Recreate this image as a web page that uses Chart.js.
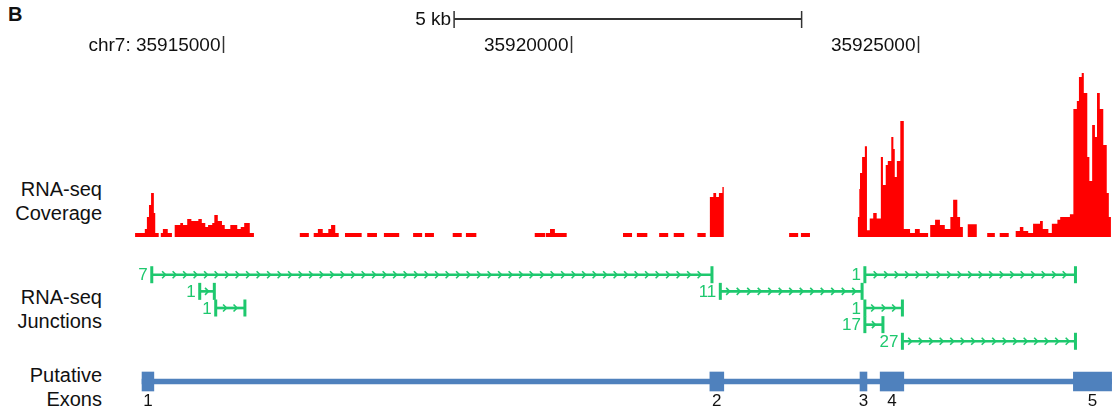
<!DOCTYPE html>
<html>
<head>
<meta charset="utf-8">
<title>RNA-seq coverage, junctions and putative exons</title>
<script src="https://cdn.jsdelivr.net/npm/chart.js"></script>
<style>
  body { margin: 0; background: #fff; font-family: "Liberation Sans", Arial, sans-serif; }
  #wrap { position: relative; width: 1114px; height: 412px; overflow: hidden; background: #fff; }
  #wrap canvas { position: absolute; left: 0; }
  .lbl { position: absolute; right: 1012px; font-size: 20px; line-height: 24px; color: #111; text-align: right; white-space: nowrap; }
  #panel { position: absolute; left: 8px; top: 3px; font-size: 20px; font-weight: bold; color: #111; }
</style>
</head>
<body>
<div id="wrap">
  <div id="panel">B</div>
  <div class="lbl" style="top:177px">RNA-seq<br>Coverage</div>
  <div class="lbl" style="top:285px">RNA-seq<br>Junctions</div>
  <div class="lbl" style="top:363px">Putative<br>Exons</div>
  <canvas id="ruler" width="1114" height="60" style="top:0"></canvas>
  <canvas id="coverage" width="1114" height="164" style="top:73px"></canvas>
  <canvas id="junctions" width="1114" height="104" style="top:256px"></canvas>
  <canvas id="exons" width="1114" height="50" style="top:362px"></canvas>
</div>
<script>
// genomic window shown (chr7)
const xRange = [35913700, 35927800];
const rulerTicks = [35915000, 35920000, 35925000];
const rulerLabels = ["chr7: 35915000", "35920000", "35925000"];
const scaleBar = [35918320, 35923320];
const scaleBarLabel = "5 kb";

// coverage runs: depth holds from each position to the next one
const covPos = [
  35913730, 35913870, 35913900, 35913930, 35913960, 35914000, 35914020, 35914070,
  35914100, 35914130, 35914200, 35914260, 35914300, 35914380, 35914420, 35914480,
  35914540, 35914590, 35914640, 35914690, 35914740, 35914780, 35914840, 35914870,
  35914920, 35914980, 35915020, 35915100, 35915200, 35915250, 35915300, 35915380,
  35915440, 35916100, 35916230, 35916300, 35916360, 35916430, 35916510, 35916550,
  35916610, 35916660, 35916750, 35916990, 35917070, 35917210, 35917310, 35917530,
  35917730, 35917860, 35917900, 35918030, 35918300, 35918430, 35918490, 35918640,
  35919480, 35919630, 35919640, 35919700, 35919770, 35919940, 35920750, 35920880,
  35920950, 35921100, 35921270, 35921400, 35921480, 35921630, 35921820, 35921940,
  35922000, 35922050, 35922090, 35922130, 35922180, 35922200, 35923140, 35923270,
  35923310, 35923440, 35924130, 35924150, 35924160, 35924190, 35924230, 35924260,
  35924300, 35924350, 35924400, 35924460, 35924490, 35924530, 35924560, 35924610,
  35924640, 35924660, 35924690, 35924740, 35924790, 35924880, 35924950, 35925020,
  35925140, 35925170, 35925240, 35925310, 35925380, 35925460, 35925500, 35925560,
  35925600, 35925640, 35925710, 35925840, 35925990, 35926100, 35926170, 35926300,
  35926400, 35926460, 35926510, 35926580, 35926650, 35926750, 35926790, 35926870,
  35926920, 35927000, 35927040, 35927180, 35927230, 35927280, 35927310, 35927350,
  35927380, 35927430, 35927460, 35927500, 35927540, 35927570, 35927610, 35927660,
  35927710, 35927740, 35927770
];
const covDepth = [
  1, 2, 5, 8, 11, 6, 1, 0,
  1, 2, 1, 0, 3, 3.5, 3, 4.5,
  4, 4, 4.5, 3.5, 2.5, 3, 3.5, 5.5,
  4, 3, 2, 3, 2, 2.5, 3.5, 1,
  0, 1, 0, 1, 2, 1, 2, 3,
  1, 0, 1, 0, 1, 0, 1, 0,
  1, 0, 1, 0, 1, 0, 1, 0,
  1, 0, 1, 2, 1, 0, 1, 0,
  1, 0, 1, 0, 1, 0, 1, 0,
  10, 11, 10, 11, 12.5, 0, 1, 0,
  1, 0, 5, 12, 16, 20, 22.7, 1.7,
  4.6, 6, 4.6, 20, 13, 18, 19, 25,
  22, 15, 19, 29, 2, 1, 2, 1,
  0, 3, 4.3, 3, 2, 5, 9.3, 5,
  2.5, 0, 3.2, 0, 1, 0, 1, 0,
  1.5, 2.5, 1.5, 1, 3.3, 4, 2, 1,
  3.3, 4.3, 5, 5.7, 32, 34, 40, 41,
  36, 20, 14, 28, 25, 36, 32, 23,
  11, 5, 0
];
const covMax = 41;

// splice junctions: start, end, display row, supporting reads
const juncStart = [35913970, 35924230, 35914660, 35922150, 35914890, 35924230, 35924230, 35924770];
const juncEnd   = [35922030, 35927260, 35914870, 35924190, 35915310, 35924770, 35924490, 35927260];
const juncRow   = [1, 1, 2, 2, 3, 3, 4, 5];
const juncCount = ["7", "1", "1", "11", "1", "1", "17", "27"];

// putative exons
const exonStart = [35913830, 35922000, 35924160, 35924450, 35927230];
const exonEnd   = [35914000, 35922200, 35924260, 35924790, 35927780];
const exonNames = ["1", "2", "3", "4", "5"];

const RED = "#ff0000";
const GREEN = "#1ec86e";
const BLUE = "#4f81bd";
const FONT = "'Liberation Sans', Arial, sans-serif";

const baseOptions = (extra) => ({
  responsive: false,
  animation: false,
  events: [],
  layout: { padding: { left: 133, right: 1, top: 0, bottom: 0 } },
  plugins: { legend: { display: false }, tooltip: { enabled: false } },
  ...extra,
});

const xScale = { type: "linear", min: xRange[0], max: xRange[1], display: false };

// coordinate ruler and scale bar
const rulerPlugin = {
  id: "ruler",
  afterDraw(chart) {
    const { ctx } = chart;
    const x = chart.scales.x;
    ctx.save();
    ctx.strokeStyle = "#333";
    ctx.fillStyle = "#111";
    ctx.font = "19px " + FONT;
    ctx.textAlign = "right";
    ctx.textBaseline = "middle";

    const b0 = x.getPixelForValue(scaleBar[0]);
    const b1 = x.getPixelForValue(scaleBar[1]);
    ctx.lineWidth = 2;
    ctx.beginPath();
    ctx.moveTo(b0, 19);
    ctx.lineTo(b1, 19);
    ctx.stroke();
    ctx.lineWidth = 1.5;
    [b0, b1].forEach((bx) => {
      ctx.beginPath();
      ctx.moveTo(bx, 11);
      ctx.lineTo(bx, 28);
      ctx.stroke();
    });
    ctx.fillText(scaleBarLabel, b0 - 3, 20);

    rulerTicks.forEach((t, i) => {
      const tx = Math.round(x.getPixelForValue(t)) + 0.5;
      ctx.beginPath();
      ctx.moveTo(tx, 36);
      ctx.lineTo(tx, 53);
      ctx.stroke();
      ctx.fillText(rulerLabels[i], tx - 3, 46);
    });
    ctx.restore();
  },
};

new Chart(document.getElementById("ruler"), {
  type: "line",
  data: { datasets: [] },
  options: baseOptions({ scales: { x: xScale, y: { display: false, min: 0, max: 1 } } }),
  plugins: [rulerPlugin],
});

// coverage histogram
new Chart(document.getElementById("coverage"), {
  type: "line",
  data: {
    datasets: [
      {
        data: covPos.map((p, i) => ({ x: p, y: covDepth[i] })),
        stepped: true,
        fill: "origin",
        backgroundColor: RED,
        borderColor: "rgba(0,0,0,0)",
        borderWidth: 0,
        pointRadius: 0,
      },
    ],
  },
  options: baseOptions({
    scales: { x: xScale, y: { display: false, min: 0, max: covMax } },
  }),
});

// junction end caps, arrows and read counts
const chevronGap = 10.5;
const junctionPlugin = {
  id: "junctionMarks",
  afterDatasetsDraw(chart) {
    const { ctx } = chart;
    const meta = chart.getDatasetMeta(0);
    ctx.save();
    ctx.strokeStyle = GREEN;
    ctx.fillStyle = GREEN;
    ctx.font = "17px " + FONT;
    ctx.textAlign = "right";
    ctx.textBaseline = "middle";
    meta.data.forEach((bar, i) => {
      const { x: xe, base: xs, y } = bar.getProps(["x", "base", "y"], true);
      ctx.fillRect(xs - 1.5, y - 8.5, 3, 17);
      ctx.fillRect(xe - 1.5, y - 8.5, 3, 17);
      const len = xe - xs;
      const n = Math.floor((len - 4) / chevronGap);
      ctx.lineWidth = 1.6;
      for (let k = 0; k < n; k++) {
        const cx = xs + (len - (n - 1) * chevronGap) / 2 + k * chevronGap;
        ctx.beginPath();
        ctx.moveTo(cx - 2, y - 3.5);
        ctx.lineTo(cx + 1.5, y);
        ctx.lineTo(cx - 2, y + 3.5);
        ctx.stroke();
      }
      ctx.fillText(juncCount[i], xs - 4, y + 1);
    });
    ctx.restore();
  },
};

new Chart(document.getElementById("junctions"), {
  type: "bar",
  data: {
    datasets: [
      {
        data: juncStart.map((s, i) => ({ x: [s, juncEnd[i]], y: juncRow[i] })),
        backgroundColor: GREEN,
        barThickness: 2,
        borderSkipped: false,
      },
    ],
  },
  options: baseOptions({
    indexAxis: "y",
    scales: { x: xScale, y: { type: "linear", display: false, min: 0.5, max: 5.5, reverse: true } },
  }),
  plugins: [junctionPlugin],
});

// exon model: intron backbone + exon boxes
const exonPlugin = {
  id: "exonNames",
  afterDatasetsDraw(chart) {
    const { ctx } = chart;
    const meta = chart.getDatasetMeta(1);
    ctx.save();
    ctx.fillStyle = "#111";
    ctx.font = "17px " + FONT;
    ctx.textAlign = "center";
    ctx.textBaseline = "top";
    meta.data.forEach((bar, i) => {
      const { x, base, y, height } = bar.getProps(["x", "base", "y", "height"], true);
      ctx.fillText(exonNames[i], (x + base) / 2, y + height / 2 + 2);
    });
    ctx.restore();
  },
};

new Chart(document.getElementById("exons"), {
  type: "bar",
  data: {
    datasets: [
      {
        data: [{ x: [exonStart[0], exonEnd[exonEnd.length - 1]], y: 1 }],
        backgroundColor: BLUE,
        barThickness: 5,
        grouped: false,
        order: 2,
      },
      {
        data: exonStart.map((s, i) => ({ x: [s, exonEnd[i]], y: 1 })),
        backgroundColor: BLUE,
        barThickness: 19,
        grouped: false,
        order: 1,
      },
    ],
  },
  options: baseOptions({
    indexAxis: "y",
    layout: { padding: { left: 133, right: 1, top: 0, bottom: 11 } },
    scales: { x: xScale, y: { type: "linear", display: false, min: 0, max: 2 } },
  }),
  plugins: [exonPlugin],
});
</script>
</body>
</html>
